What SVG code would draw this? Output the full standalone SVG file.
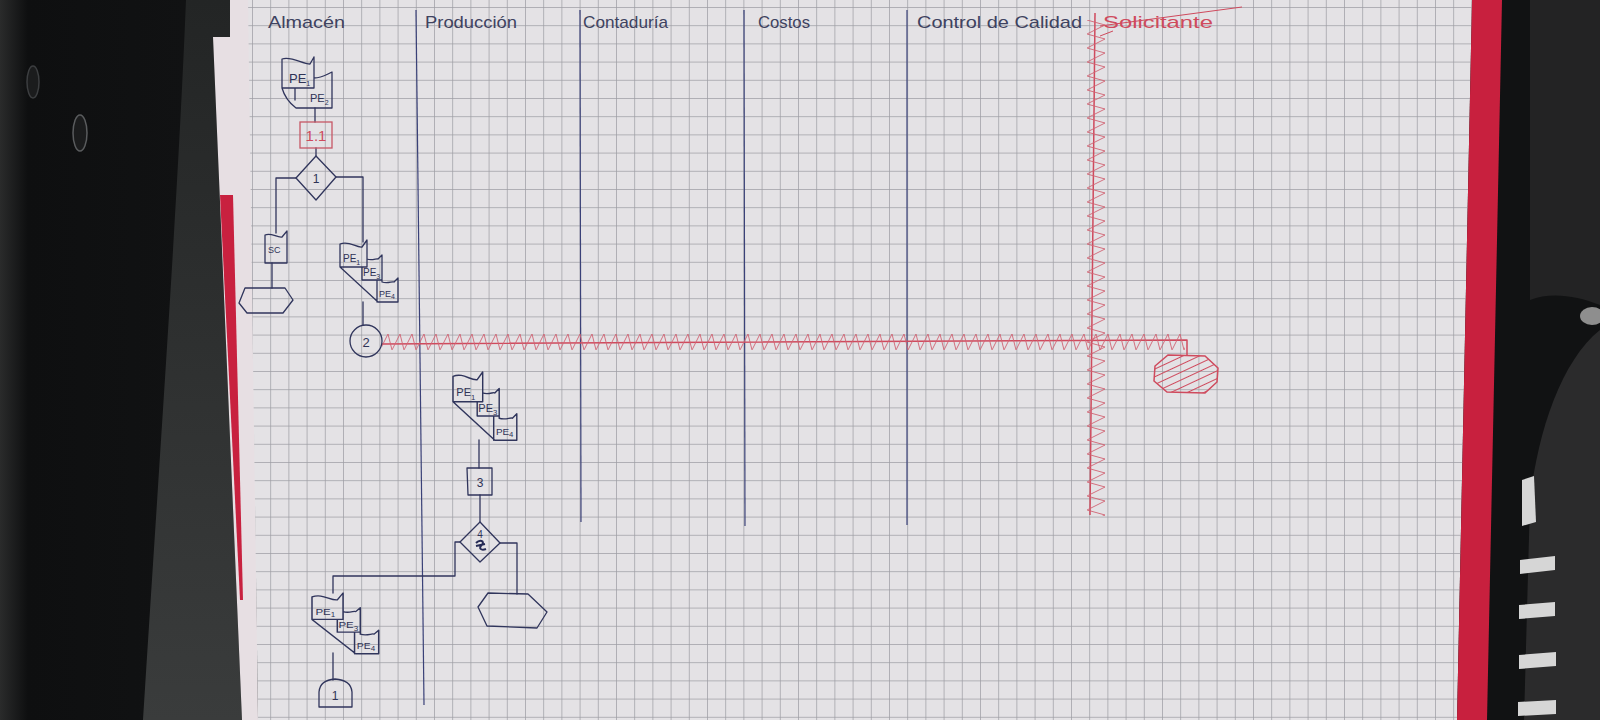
<svg xmlns="http://www.w3.org/2000/svg" width="1600" height="720" viewBox="0 0 1600 720">
<defs>
<style>
.ink{fill:none;stroke:#30355c;stroke-width:1.3;stroke-linejoin:round;stroke-linecap:round;vector-effect:non-scaling-stroke}
.lane{fill:none;stroke:#3a4178;stroke-width:1.2}
.red{fill:none;stroke:#cf4a5d;stroke-width:1.5;stroke-linejoin:round}
.hd{font-family:"Liberation Sans Narrow","Liberation Sans",sans-serif;font-size:17px;fill:#3e4260}
.lb{font-family:"Liberation Sans Narrow","Liberation Sans",sans-serif;font-size:10px;fill:#2f3356}
.sub{font-size:7px}
</style>
<pattern id="grid" patternUnits="userSpaceOnUse" x="252" y="7" width="18.2" height="18.2">
<path d="M0,0.4 H18.2 M0.4,0 V18.2" fill="none" stroke="#9e9da4" stroke-width="0.8"/>
</pattern>
<pattern id="zzh" patternUnits="userSpaceOnUse" x="380" y="333" width="12" height="18">
<path d="M0,17 L8,1 L12,17" fill="none" stroke="#d06272" stroke-width="0.9"/>
</pattern>
<pattern id="zzv" patternUnits="userSpaceOnUse" x="1083" y="20" width="24" height="14">
<path d="M4,0 L22,5 L4,14" fill="none" stroke="#d06272" stroke-width="0.9"/>
</pattern>
<pattern id="hatch" patternUnits="userSpaceOnUse" width="7" height="7" patternTransform="rotate(-25)">
<path d="M0,3.5 H7" stroke="#cf4a5d" stroke-width="1"/>
</pattern>
<linearGradient id="gap" x1="0" y1="0" x2="0" y2="1">
<stop offset="0" stop-color="#232525"/><stop offset="1" stop-color="#3a3c3c"/>
</linearGradient>
<linearGradient id="dev" x1="0" y1="0" x2="1" y2="0">
<stop offset="0" stop-color="#2a2b2b"/><stop offset="0.15" stop-color="#0e0f10"/><stop offset="1" stop-color="#111213"/>
</linearGradient>
<clipPath id="paperClip"><polygon points="248,0 1472,0 1457,720 258,720"/></clipPath>
<path id="stack3" d="M0,4 C9,0 16,8 22,7 L27,0 L27,19 C32,21 37,18 38,19 L42,15 L42,42 C48,44 52,41 54,42 L58,38 L58,62 L38,62 L0,27 Z M0,27 H27 V19 M22,27 V40 H42 M37,40 V62"/>
</defs>

<!-- background photo surroundings -->
<rect width="1600" height="720" fill="#111213"/>
<path d="M0,0 H186 C178,200 160,450 143,720 H0 Z" fill="url(#dev)"/>
<path d="M186,0 H230 V37 H213 L242,720 H143 C160,450 178,200 186,0 Z" fill="url(#gap)"/>
<ellipse cx="80" cy="133" rx="7" ry="18" fill="#1b1c1d" stroke="#5a5c5e" stroke-width="1.5"/>
<ellipse cx="33" cy="82" rx="6" ry="16" fill="#1b1c1d" stroke="#3c3e40" stroke-width="1.5"/>
<polygon points="230,0 250,0 258,720 242,720 213,37 230,37" fill="#e7dfe3"/>
<polygon points="220,195 233,195 243,600 240,600" fill="#c8213f"/>
<polygon points="248,0 1472,0 1457,720 258,720" fill="#e4e2e5"/>
<rect x="248" y="0" width="1224" height="720" fill="url(#grid)" clip-path="url(#paperClip)"/>
<polygon points="1472,0 1502,0 1487,720 1457,720" fill="#c8203e"/>
<path d="M1530,0 H1600 V305 C1575,295 1550,292 1530,300 Z" fill="#232324"/>
<ellipse cx="1592" cy="316" rx="12" ry="9" fill="#8e8e8e"/>
<path d="M1600,330 C1562,360 1538,430 1530,500 L1524,720 H1600 Z" fill="#2b2b2c"/>
<g fill="#d6d6d6">
<polygon points="1522,480 1534,476 1536,522 1522,526"/>
<polygon points="1520,560 1555,556 1555,570 1520,574"/>
<polygon points="1519,605 1555,602 1555,616 1519,619"/>
<polygon points="1519,655 1556,652 1556,666 1519,669"/>
<polygon points="1518,702 1556,700 1556,714 1518,716"/>
</g>

<!-- swimlane headers and dividers -->
<g id="lanes">
<text class="hd" x="268" y="28" textLength="77" lengthAdjust="spacingAndGlyphs">Almacén</text>
<text class="hd" x="425" y="28" textLength="92" lengthAdjust="spacingAndGlyphs">Producción</text>
<text class="hd" x="583" y="28" textLength="85" lengthAdjust="spacingAndGlyphs">Contaduría</text>
<text class="hd" x="758" y="28" textLength="52" lengthAdjust="spacingAndGlyphs">Costos</text>
<text class="hd" x="917" y="28" textLength="165" lengthAdjust="spacingAndGlyphs">Control de Calidad</text>
<text class="hd" x="1103" y="28" textLength="110" lengthAdjust="spacingAndGlyphs" style="fill:#cf4a5d">Solicitante</text>
<path class="red" d="M1100,26 L1242,7 M1100,36 L1113,31" style="stroke-width:1"/>
<path class="lane" d="M416,10 L424,705"/>
<path class="lane" d="M580,10 L581,522"/>
<path class="lane" d="M744,10 L745,526"/>
<path class="lane" d="M907,10 L907,525"/>
</g>

<!-- connectors -->
<g id="connectors">
<path class="ink" d="M315,108 V122"/>
<path class="ink" d="M316,148 V156"/>
<path class="ink" d="M296,178 H276 V233"/>
<path class="ink" d="M272,263 V288"/>
<path class="ink" d="M336,177 H363 V242"/>
<path class="ink" d="M363,302 V325"/>
<path class="ink" d="M479,440 V468"/>
<path class="ink" d="M480,495 V522"/>
<path class="ink" d="M460,542 H455 V576 H333 V593"/>
<path class="ink" d="M500,543 H517 V594"/>
<path class="ink" d="M333,653 V680"/>
<path class="red" d="M382,344 L1187,340 V356"/>
<rect x="382" y="332" width="803" height="18" fill="url(#zzh)"/>
<path class="red" d="M1095,13 L1090,515"/>
<rect x="1082" y="20" width="26" height="496" fill="url(#zzv)"/>
</g>

<!-- nodes -->
<g id="doc-pe1-pe2" transform="translate(282,57)">
<path class="ink" d="M0,2 C10,-1 20,7 28,7 L32,0 L32,21 C38,21 44,18 46,17 L50,15 L50,51 L14,51 C6,45 2,38 0,31 Z M0,31 H32 V0 M13,31 V43"/>
<text class="lb" x="7" y="26" style="font-size:13px">PE<tspan class="sub" dy="3">1</tspan></text>
<text class="lb" x="28" y="45" style="font-size:11px">PE<tspan class="sub" dy="3">2</tspan></text>
</g>
<g id="proc-1-1">
<rect x="300" y="122" width="32" height="26" fill="none" stroke="#c65766" stroke-width="1.3"/>
<text x="316" y="141" text-anchor="middle" style="font-family:'Liberation Sans',sans-serif;font-size:15px;fill:#cf4a5d">1.1</text>
</g>
<g id="dec-1">
<path class="ink" d="M316,156 L336,177 L316,200 L296,178 Z"/>
<text class="lb" x="316" y="183" text-anchor="middle" style="font-size:12px">1</text>
</g>
<g id="doc-sc">
<path class="ink" d="M265,235 C271,232 277,238 282,237 L287,231 L287,263 L265,263 Z"/>
<text class="lb" x="268" y="253" style="font-size:9px">SC</text>
</g>
<g id="term-1">
<path class="ink" d="M245,288 L285,288 L293,300 L283,313 L247,313 L239,303 Z"/>
</g>
<g id="docs-a2" transform="translate(340,240)">
<use href="#stack3" class="ink"/>
<text class="lb" x="3" y="22">PE<tspan class="sub" dy="3">1</tspan></text>
<text class="lb" x="23" y="36">PE<tspan class="sub" dy="3">3</tspan></text>
<text class="lb" x="39" y="57" style="font-size:9px">PE<tspan class="sub" dy="2">4</tspan></text>
</g>
<g id="conn-2">
<circle class="ink" cx="366" cy="341" r="16"/>
<text class="lb" x="366" y="347" text-anchor="middle" style="font-size:13px">2</text>
</g>
<g id="docs-p" transform="translate(453,372) scale(1.1)">
<use href="#stack3" class="ink"/>
<text class="lb" x="3" y="22">PE<tspan class="sub" dy="3">1</tspan></text>
<text class="lb" x="23" y="36">PE<tspan class="sub" dy="3">3</tspan></text>
<text class="lb" x="39" y="57" style="font-size:9px">PE<tspan class="sub" dy="2">4</tspan></text>
</g>
<g id="proc-3">
<path class="ink" d="M467,468 H492 V495 H468 Z"/>
<text class="lb" x="480" y="487" text-anchor="middle" style="font-size:12px">3</text>
</g>
<g id="dec-4">
<path class="ink" d="M480,522 L500,543 L480,562 L460,542 Z"/>
<text class="lb" x="480" y="538" text-anchor="middle" style="font-size:10px">4</text>
<path d="M476,543 C480,539 485,541 482,545 C478,548 481,551 486,549 M476,546 L485,544" fill="none" stroke="#252a55" stroke-width="2"/>
</g>
<g id="term-2">
<path class="ink" d="M488,593 L528,594 L547,612 L537,628 L487,626 L478,607 Z"/>
</g>
<g id="docs-a3" transform="translate(312,593) scale(1.15,0.98)">
<use href="#stack3" class="ink"/>
<text class="lb" x="3" y="22">PE<tspan class="sub" dy="3">1</tspan></text>
<text class="lb" x="23" y="36">PE<tspan class="sub" dy="3">3</tspan></text>
<text class="lb" x="39" y="57" style="font-size:9px">PE<tspan class="sub" dy="2">4</tspan></text>
</g>
<g id="offpage-1">
<path class="ink" d="M319,707 V692 Q320,680 335,679 Q351,680 352,692 V707 Z"/>
<text class="lb" x="335" y="700" text-anchor="middle" style="font-size:12px">1</text>
</g>
<g id="sol-end">
<polygon points="1168,355 1205,356 1218,368 1217,382 1205,393 1167,392 1154,381 1155,366" fill="url(#hatch)" stroke="#cf4a5d" stroke-width="1.5"/>
</g>
</svg>
